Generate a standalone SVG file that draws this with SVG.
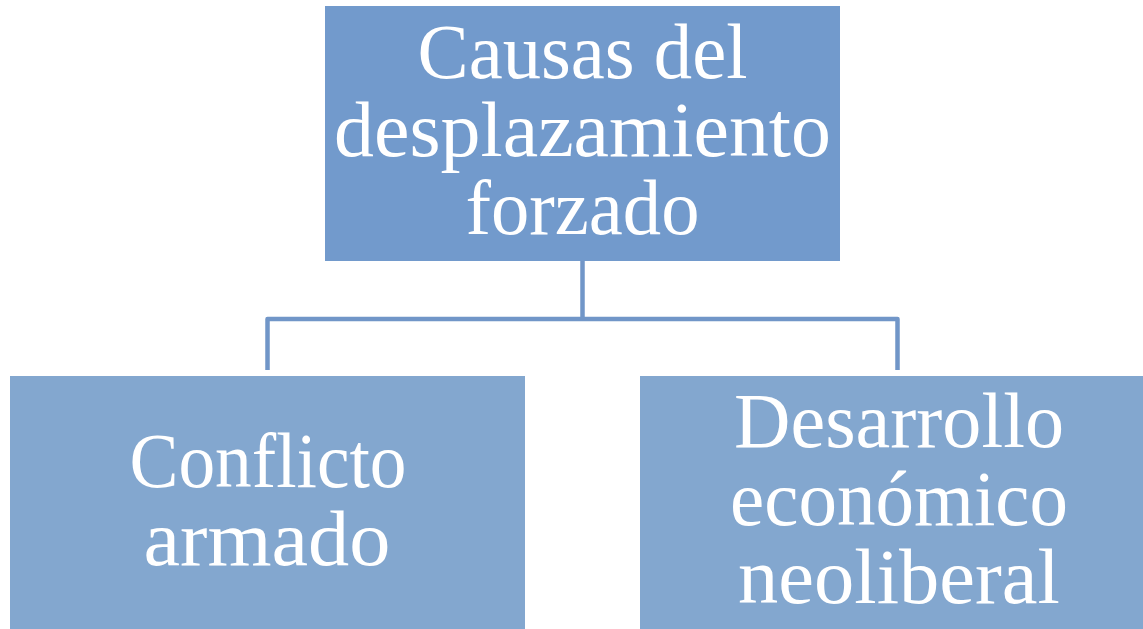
<svg xmlns="http://www.w3.org/2000/svg" width="1143" height="629" viewBox="0 0 1143 629">
<style>
.top{fill:#729ACC}
.child{fill:#83A7CF}
.lbl{font-family:"Liberation Serif","Times New Roman",serif;font-size:78px;fill:#FFFFFF;text-anchor:middle}
.conn{fill:none;stroke:#7196C8;stroke-width:4.5;stroke-linejoin:round}
</style>
<rect width="1143" height="629" fill="#FFFFFF"/>
<g id="connectors">
<path class="conn" d="M582.5 261 V319"/>
<path class="conn" d="M267.5 370 V319 H897.5 V370"/>
</g>
<g id="node-causas">
<rect class="top" x="325" y="6" width="515" height="255"/>
<text class="lbl" x="582.5" y="78" textLength="330" lengthAdjust="spacingAndGlyphs">Causas del</text>
<text class="lbl" x="582.5" y="156" textLength="497" lengthAdjust="spacingAndGlyphs">desplazamiento</text>
<text class="lbl" x="582.5" y="234" textLength="234" lengthAdjust="spacingAndGlyphs">forzado</text>
</g>
<g id="node-conflicto">
<rect class="child" x="10" y="376" width="515" height="260"/>
<text class="lbl" x="268" y="487" textLength="277" lengthAdjust="spacingAndGlyphs">Conflicto</text>
<text class="lbl" x="267" y="565" textLength="247" lengthAdjust="spacingAndGlyphs">armado</text>
</g>
<g id="node-desarrollo">
<rect class="child" x="640" y="376" width="515" height="260"/>
<text class="lbl" x="899" y="447" textLength="330" lengthAdjust="spacingAndGlyphs">Desarrollo</text>
<text class="lbl" x="899" y="525" textLength="338" lengthAdjust="spacingAndGlyphs">económico</text>
<text class="lbl" x="899" y="603" textLength="322" lengthAdjust="spacingAndGlyphs">neoliberal</text>
</g>
</svg>
